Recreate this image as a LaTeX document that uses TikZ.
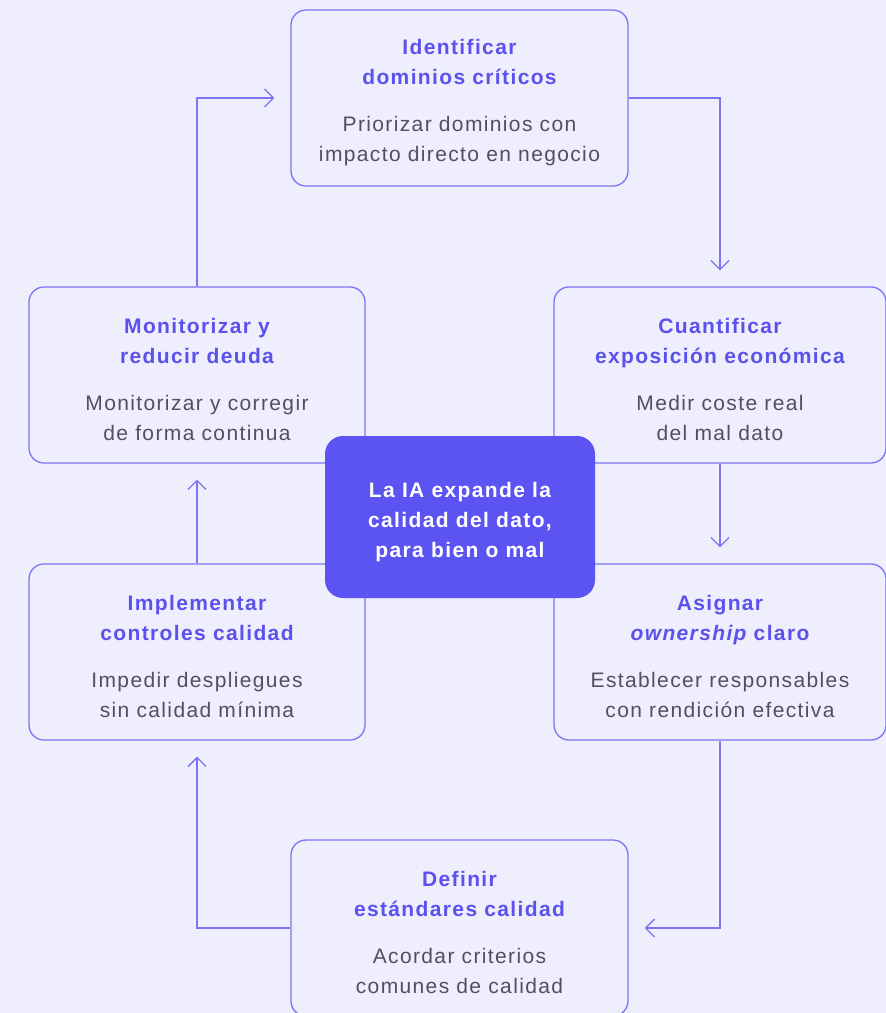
\documentclass[tikz,border=0pt]{standalone}
\usepackage{fontspec}
\setmainfont[LetterSpace=6.5]{Liberation Sans}
\usetikzlibrary{arrows.meta}
\definecolor{fondo}{HTML}{EFEEFC}
\definecolor{linea}{HTML}{7C75F3}
\definecolor{titulo}{HTML}{5B52EE}
\definecolor{morado}{HTML}{5B54F3}
\definecolor{gris}{HTML}{51505C}
\newcommand{\tit}[1]{{\color{titulo}\bfseries #1}}
\newcommand{\alto}[1]{\rule{0pt}{#1}}
\begin{document}
\begin{tikzpicture}[x=1pt,y=-1pt,
	caja/.style={draw=linea, line width=1.3pt, rounded corners=15pt, fill=fondo,
		minimum height=176pt, inner sep=0pt, align=center, text=gris,
		font=\fontsize{21}{30}\selectfont},
	centro/.style={fill=morado, rounded corners=18pt, minimum width=270pt,
		minimum height=162pt, align=center, text=white,
		font=\bfseries\fontsize{21}{30}\selectfont},
	flecha/.style={draw=linea, line width=1.3pt,
		-{Straight Barb[length=9pt,width=18pt]}, shorten >=16pt}]
	% marco
	\fill[fondo] (0,0) rectangle (886,1013);
	\useasboundingbox (0,0) rectangle (886,1013);
	
	% cajas
	\node[caja, minimum width=337pt] (ident) at (459.5,98)
		{\alto{24pt}\tit{Identificar}\\ \tit{dominios críticos}\\[17pt]
		 Priorizar dominios con\\ impacto directo en negocio};
	\node[caja, minimum width=332pt] (cuant) at (720,375)
		{\alto{24pt}\tit{Cuantificar}\\ \tit{exposición económica}\\[17pt]
		 Medir coste real\\ del mal dato};
	\node[caja, minimum width=332pt] (asig) at (720,652)
		{\alto{24pt}\tit{Asignar}\\ \tit{{\itshape ownership} claro}\\[17pt]
		 Establecer responsables\\ con rendición efectiva};
	\node[caja, minimum width=337pt] (def) at (459.5,928)
		{\alto{24pt}\tit{Definir}\\ \tit{estándares calidad}\\[17pt]
		 Acordar criterios\\ comunes de calidad};
	\node[caja, minimum width=336pt] (impl) at (197,652)
		{\alto{24pt}\tit{Implementar}\\ \tit{controles calidad}\\[17pt]
		 Impedir despliegues\\ sin calidad mínima};
	\node[caja, minimum width=336pt] (mon) at (197,375)
		{\alto{24pt}\tit{Monitorizar y}\\ \tit{reducir deuda}\\[17pt]
		 Monitorizar y corregir\\ de forma continua};
	
	% centro
	\node[centro] (ia) at (460,517)
		{\alto{26pt}La IA expande la\\ calidad del dato,\\ para bien o mal};
	
	% flechas
	\draw[flecha] (ident.east) -| (cuant.north);
	\draw[flecha] (cuant.south) -- (asig.north);
	\draw[flecha] (asig.south) |- (def.east);
	\draw[flecha] (def.west) -| (impl.south);
	\draw[flecha] (impl.north) -- (mon.south);
	\draw[flecha] (mon.north) |- (ident.west);
\end{tikzpicture}
\end{document}
